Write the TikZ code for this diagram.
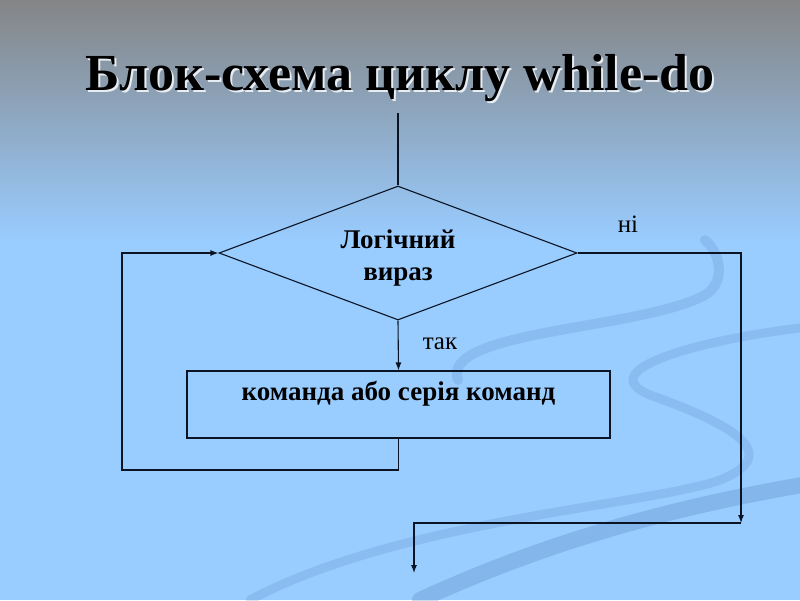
\documentclass[tikz,border=0pt]{standalone}
\usepackage{fontspec}
\setmainfont{Liberation Serif}
\usepackage{tikz}
\usetikzlibrary{arrows.meta,shapes.geometric}
\definecolor{bgtop}{HTML}{848586}
\definecolor{bgmid}{HTML}{8AA3C2}
\definecolor{bgblue}{HTML}{99CCFF}
\definecolor{swirl}{HTML}{4F80BC}
\definecolor{ink}{HTML}{0A1424}
\tikzset{
  flow/.style={draw=ink, line width=1.1pt},
  decision/.style={diamond, aspect=3, draw=ink, line width=1.1pt, minimum width=358pt,
    minimum height=134pt, inner sep=0pt, align=center, text height=60pt, text depth=6pt,
    font=\fontsize{27}{32}\selectfont\bfseries},
  action/.style={rectangle, draw=ink, line width=1.1pt, minimum width=423pt,
    inner sep=0pt, text height=29pt, text depth=38pt,
    font=\fontsize{27}{32}\selectfont\bfseries},
  answer/.style={anchor=base, font=\fontsize{25}{30}\selectfont},
  swirlband/.style={draw=swirl, opacity=0.2, line cap=round}
}

\begin{document}
\begin{tikzpicture}[x=1pt, y=-1pt, >={Latex[length=8pt,width=6pt]}]
  \useasboundingbox (0,0) rectangle (800,600);
  \shade [top color=bgtop, middle color=bgmid, bottom color=bgblue] (0,0) rectangle (800,240);
  \fill [bgblue] (0,240) rectangle (800,600);
  \draw [swirlband, line width=10pt] (458,380) .. controls (440,330) and (640,330) .. (705,295)
    .. controls (725,283) and (722,255) .. (705,240);
  \draw [swirlband, line width=9pt] (800,328) .. controls (700,340) and (590,370) .. (650,395)
    .. controls (720,420) and (790,452) .. (720,480) .. controls (650,505) and (400,520) .. (250,600);
  \draw [swirlband, line width=16pt, opacity=0.28] (420,600) .. controls (550,540) and (680,505) .. (820,482);

  \node [anchor=base, text=white!80!bgmid, font=\fontsize{52}{62}\selectfont\bfseries] (titleshade) at (402,92) {Блок-схема циклу while-do};
  \node [anchor=base, text=black, font=\fontsize{52}{62}\selectfont\bfseries] (title) at (400,90) {Блок-схема циклу while-do};

  \coordinate (start) at (398,113);
  \node [decision] (cond) at (398,253) {Логічний\\вираз};
  \node [action] (body) at (398.5,404.5) {команда або серія команд};
  \coordinate (back) at (122,470);
  \coordinate (exit) at (741,523);
  \coordinate (next) at (414,573);
  \node [answer] (no) at (628,232) {ні};
  \node [answer] (yes) at (440,349) {так};

  \draw [flow] (start) -- (cond.north);
  \draw [flow,->] (cond.south) -- (body.north);
  \draw [flow,->] (body.south) |- (back) |- (cond.west);
  \draw [flow,->] (cond.east) -| (exit);
  \draw [flow,->] (exit) -| (next);
\end{tikzpicture}
\end{document}
